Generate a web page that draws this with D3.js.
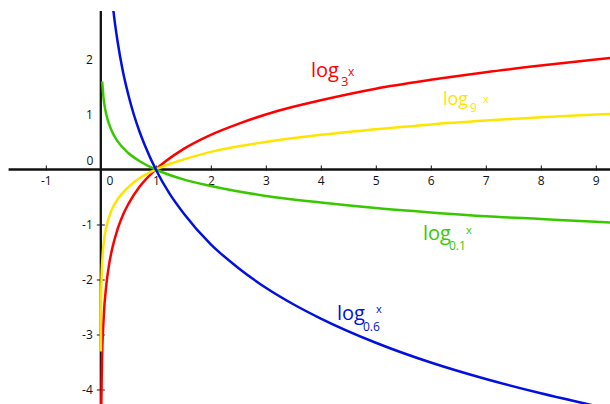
<!DOCTYPE html>
<html>
<head>
<meta charset="utf-8">
<script src="https://cdn.jsdelivr.net/npm/d3@7"></script>
<style>
  body { margin: 0; background: #fff; }
  text { font-family: "Open Sans", sans-serif; }
</style>
</head>
<body>
<div id="chart"></div>
<script>
//Dimensions of the picture
const width = 610;
const height = 404;

//Values (x, y pairs per base)
const redX = [0.009, 0.02, 0.05, 0.1, 0.15, 0.2, 0.3, 0.4, 0.5, 0.7, 1, 1.5, 2, 2.5, 3, 3.5, 4, 5, 6, 7, 8, 9, 9.5];
const redY = [-4.29, -3.56, -2.73, -2.1, -1.73, -1.47, -1.1, -0.83, -0.63, -0.32, 0, 0.37, 0.63, 0.83, 1, 1.14, 1.26, 1.47, 1.63, 1.77, 1.89, 2, 2.05];

const yellowX = [0.0007, 0.003, 0.01, 0.03, 0.05, 0.1, 0.2, 0.3, 0.5, 0.7, 1, 1.5, 2, 3, 4, 5, 6, 7, 8, 9, 9.5];
const yellowY = [-3.31, -2.64, -2.1, -1.6, -1.36, -1.05, -0.73, -0.55, -0.32, -0.16, 0, 0.18, 0.32, 0.5, 0.63, 0.73, 0.82, 0.89, 0.95, 1, 1.02];

const greenX = [0.025, 0.05, 0.1, 0.2, 0.3, 0.5, 0.7, 1, 1.5, 2, 3, 4, 5, 6, 7, 8, 9, 9.5];
const greenY = [1.6, 1.3, 1, 0.7, 0.52, 0.3, 0.155, 0, -0.18, -0.3, -0.48, -0.6, -0.7, -0.78, -0.85, -0.9, -0.95, -0.98];

const blueX = [0.22, 0.25, 0.3, 0.4, 0.5, 0.6, 0.7, 0.8, 1, 1.25, 1.5, 2, 2.5, 3, 3.5, 4, 5, 6, 7, 8, 9, 9.5];
const blueY = [2.96, 2.71, 2.36, 1.79, 1.36, 1, 0.7, 0.44, 0, -0.44, -0.79, -1.36, -1.79, -2.15, -2.45, -2.71, -3.15, -3.51, -3.81, -4.07, -4.3, -4.41];

//Tick labels
const xTicks = [-1, 1, 2, 3, 4, 5, 6, 7, 8, 9];
const yTicksNeg = [-1, -2, -3, -4];
const yTicksPos = [1, 2];

const curves = [
    { name: "3", xs: redX, ys: redY, color: "#ff0000" },
    { name: "9", xs: yellowX, ys: yellowY, color: "#ffe400" },
    { name: "0.1", xs: greenX, ys: greenY, color: "#38c800" },
    { name: "0.6", xs: blueX, ys: blueY, color: "#0010e0" }
];

const svg = d3.select("#chart").append("svg").attr("width", width).attr("height", height);

//Scales, 55px per unit on both axes
const x = d3.scaleLinear().domain([-1.833, 9.258]).range([0, width]);
const y = d3.scaleLinear().domain([3.082, -4.264]).range([0, height]);

const axisTop = 11;
//plain hyphen for negative numbers, like the reference
const fmt = d => String(d);

//X axis
const xAxis = svg.append("g")
    .attr("transform", `translate(0, ${y(0)})`)
    .call(d3.axisBottom(x).tickValues(xTicks).tickFormat(fmt).tickSizeInner(-4).tickSizeOuter(0).tickPadding(7));
xAxis.select(".domain").remove();
xAxis.selectAll(".tick line").attr("y1", 1).attr("stroke", "#111");
xAxis.selectAll("text").style("font-size", "12px").attr("fill", "#111");

//Y axis, negative side with ticks
const yAxis = svg.append("g")
    .attr("transform", `translate(${x(0)}, 0)`)
    .call(d3.axisLeft(y).tickValues(yTicksNeg).tickFormat(fmt).tickSizeInner(4).tickSizeOuter(0).tickPadding(4));
yAxis.select(".domain").remove();
yAxis.selectAll(".tick line").attr("x1", 4).attr("stroke", "#111");
yAxis.selectAll("text").style("font-size", "12px").attr("fill", "#111");

//Positive side, labels only
const yAxisPos = svg.append("g")
    .attr("transform", `translate(${x(0)}, 0)`)
    .call(d3.axisLeft(y).tickValues(yTicksPos).tickFormat(fmt).tickSize(0).tickPadding(8));
yAxisPos.select(".domain").remove();
yAxisPos.selectAll("text").style("font-size", "12px").attr("fill", "#111");

//The two zeros around the origin
svg.append("text").attr("x", x(0) - 11).attr("y", y(0) - 4).attr("text-anchor", "middle")
    .style("font-size", "12px").attr("fill", "#111").text("0");
svg.append("text").attr("x", x(0) + 9).attr("y", y(0) + 16).attr("text-anchor", "middle")
    .style("font-size", "12px").attr("fill", "#111").text("0");

//Axis lines
svg.append("line").attr("x1", 8.6).attr("x2", width).attr("y1", y(0)).attr("y2", y(0))
    .attr("stroke", "#111").attr("stroke-width", 2.3);
svg.append("line").attr("x1", x(0)).attr("x2", x(0)).attr("y1", axisTop).attr("y2", height)
    .attr("stroke", "#111").attr("stroke-width", 2.3);

//Clip the curves under the top of the y axis
svg.append("clipPath").attr("id", "clip")
    .append("rect").attr("x", 0).attr("y", axisTop).attr("width", width).attr("height", height - axisTop);

const line = d3.line()
    .x(d => x(d[0]))
    .y(d => y(d[1]))
    .curve(d3.curveMonotoneX);

svg.append("g").attr("clip-path", "url(#clip)")
    .selectAll("path")
    .data(curves)
    .enter().append("path")
    .attr("d", d => line(d.xs.map((v, i) => [v, d.ys[i]])))
    .attr("fill", "none")
    .attr("stroke", d => d.color)
    .attr("stroke-width", 2.5);

//Curve labels: log, base and x
const labels = [
    { c: curves[0], lx: 311, ly: 77, ls: 20, bx: 341, by: 86, bs: 13, xx: 348, xy: 76, xs: 12 },
    { c: curves[1], lx: 443, ly: 105, ls: 18, bx: 470, by: 112, bs: 12, xx: 483, xy: 103, xs: 11 },
    { c: curves[2], lx: 423, ly: 240, ls: 20, bx: 449, by: 250, bs: 12, xx: 466, xy: 234, xs: 11 },
    { c: curves[3], lx: 337, ly: 320, ls: 20, bx: 363, by: 331, bs: 12, xx: 376, xy: 313, xs: 11 }
];

labels.forEach(l => {
    const t = svg.append("text").attr("fill", l.c.color);
    t.append("tspan").attr("x", l.lx).attr("y", l.ly).style("font-size", l.ls + "px").text("log");
    t.append("tspan").attr("x", l.bx).attr("y", l.by).style("font-size", l.bs + "px").text(l.c.name);
    t.append("tspan").attr("x", l.xx).attr("y", l.xy).style("font-size", l.xs + "px").text("x");
});
</script>
</body>
</html>
